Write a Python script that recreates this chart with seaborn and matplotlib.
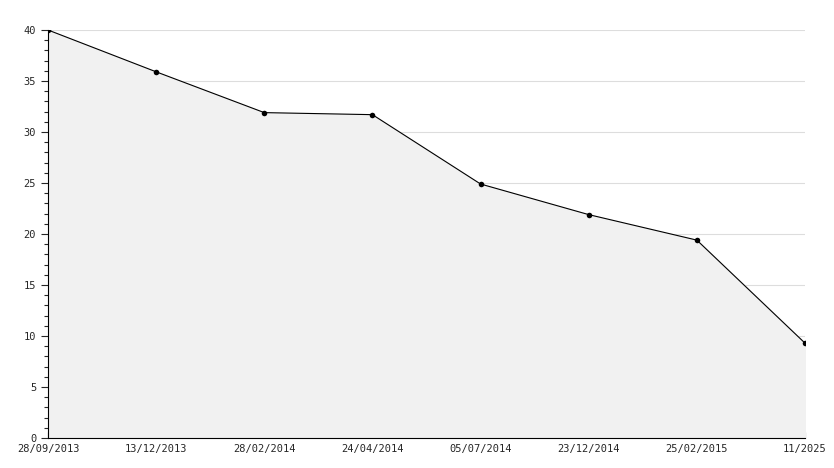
import matplotlib
matplotlib.use("Agg")
import matplotlib.pyplot as plt
import seaborn as sns
import numpy as np
from matplotlib.ticker import MultipleLocator

dates = ["28/09/2013", "13/12/2013", "28/02/2014", "24/04/2014",
         "05/07/2014", "23/12/2014", "25/02/2015", "11/2025"]
values = [40.0, 35.9, 31.9, 31.7, 24.9, 21.9, 19.4, 9.3]

sns.set_style("white")
plt.rcParams["font.family"] = ["DejaVu Sans Mono"]

fig = plt.figure(figsize=(8.34, 4.68), dpi=100)
ax = fig.add_axes([48/834, 30/468, (805-48)/834, (438-30)/468])

x = np.arange(len(dates))
ax.fill_between(x, values, 0, color="#f1f1f1", zorder=1)
sns.lineplot(x=x, y=values, ax=ax, color="black", lw=0.8, marker="o",
             markersize=4, markeredgewidth=0, zorder=3)

ax.set_xlim(0, len(dates) - 1)
ax.set_ylim(0, 40)
ax.set_xticks(x)
ax.set_xticklabels(dates, fontsize=7.5)
ax.yaxis.set_major_locator(MultipleLocator(5))
ax.yaxis.set_minor_locator(MultipleLocator(1))
ax.tick_params(axis="y", which="major", length=5, width=0.8, labelsize=7.5, direction="out", left=True)
ax.tick_params(axis="y", which="minor", length=3, width=0.8, direction="out", left=True)
ax.tick_params(axis="x", length=4, width=0.8, direction="in", bottom=True, pad=4)
ax.grid(axis="y", which="major", color="#dddddd", lw=0.8, zorder=0)
ax.set_axisbelow(True)
for s in ["top", "right"]:
    ax.spines[s].set_visible(False)
for s in ["left", "bottom"]:
    ax.spines[s].set_color("black")
    ax.spines[s].set_linewidth(0.8)

fig.savefig("out.png", dpi=100)
